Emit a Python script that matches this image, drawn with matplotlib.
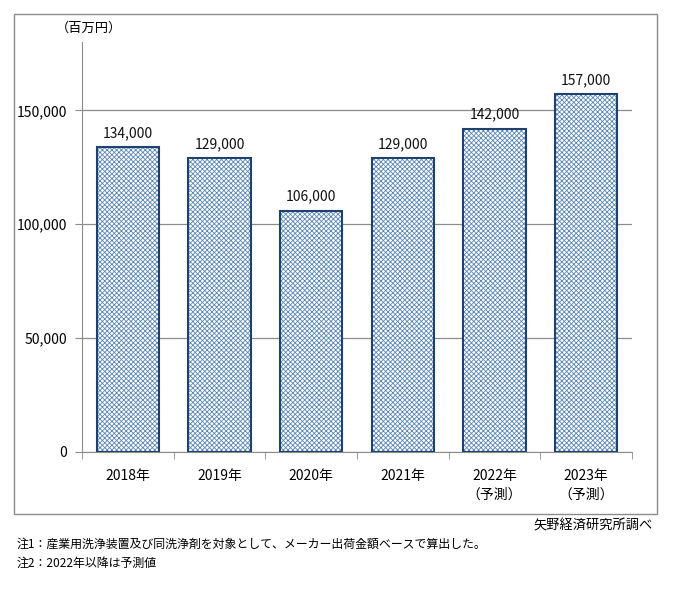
import matplotlib
matplotlib.use('Agg')
import matplotlib.pyplot as plt
from matplotlib.patches import Rectangle
from matplotlib.ticker import FuncFormatter

plt.rcParams['font.family'] = ['Noto Sans CJK JP', 'DejaVu Sans']
plt.rcParams['hatch.linewidth'] = 0.6

years = ['2018年', '2019年', '2020年', '2021年', '2022年\n（予測）', '2023年\n（予測）']
values = [134000, 129000, 106000, 129000, 142000, 157000]
yticks = [0, 50000, 100000, 150000]
unit_label = '（百万円）'
source = '矢野経済研究所調べ'
notes = ['注1：産業用洗浄装置及び同洗浄剤を対象として、メーカー出荷金額ベースで算出した。',
         '注2：2022年以降は予測値']

fig = plt.figure(figsize=(6.79, 6.05), dpi=100)

# outer frame
fig.patches.append(Rectangle((0.0206, 0.1504), 0.947, 0.8265, transform=fig.transFigure,
                             fill=False, edgecolor='#8c8c8c', lw=1.0))

ax = fig.add_axes([0.1208, 0.2529, 0.81, 0.6777])
x = range(len(values))
ax.bar(x, values, width=0.68, color='white', edgecolor='#5b87b5', hatch='xxxxxxx', lw=0, zorder=2)
ax.bar(x, values, width=0.68, fill=False, edgecolor='#1f4170', lw=1.5, zorder=3)

for i, v in enumerate(values):
    ax.annotate(f'{v:,}', (i, v), xytext=(0, 5), textcoords='offset points',
                ha='center', va='bottom', fontsize=10, color='#111111')

ax.set_ylim(0, 180000)
ax.set_xlim(-0.5, len(values) - 0.5)
ax.set_yticks(yticks)
ax.yaxis.set_major_formatter(FuncFormatter(lambda v, p: f'{int(v):,}'))
ax.yaxis.grid(True, color='#8c8c8c', lw=0.9, zorder=0)
ax.set_axisbelow(True)

ax.set_xticks(list(x))
ax.set_xticklabels(years, fontsize=10, linespacing=1.45)
ax.set_xticks([i - 0.5 for i in range(len(values) + 1)], minor=True)
ax.tick_params(axis='x', which='major', length=0, pad=12)
ax.tick_params(axis='x', which='minor', length=5, color='#8c8c8c')
ax.tick_params(axis='y', length=5, color='#8c8c8c', labelsize=10, pad=6)

for s in ['top', 'right']:
    ax.spines[s].set_visible(False)
for s in ['left', 'bottom']:
    ax.spines[s].set_color('#8c8c8c')

fig.text(0.131, 0.953, unit_label, ha='center', va='center', fontsize=9.5)
fig.text(0.962, 0.130, source, ha='right', va='center', fontsize=9.5)
fig.text(0.025, 0.101, notes[0], ha='left', va='center', fontsize=8.6)
fig.text(0.025, 0.069, notes[1], ha='left', va='center', fontsize=8.6)

plt.savefig('out.png', dpi=100)
